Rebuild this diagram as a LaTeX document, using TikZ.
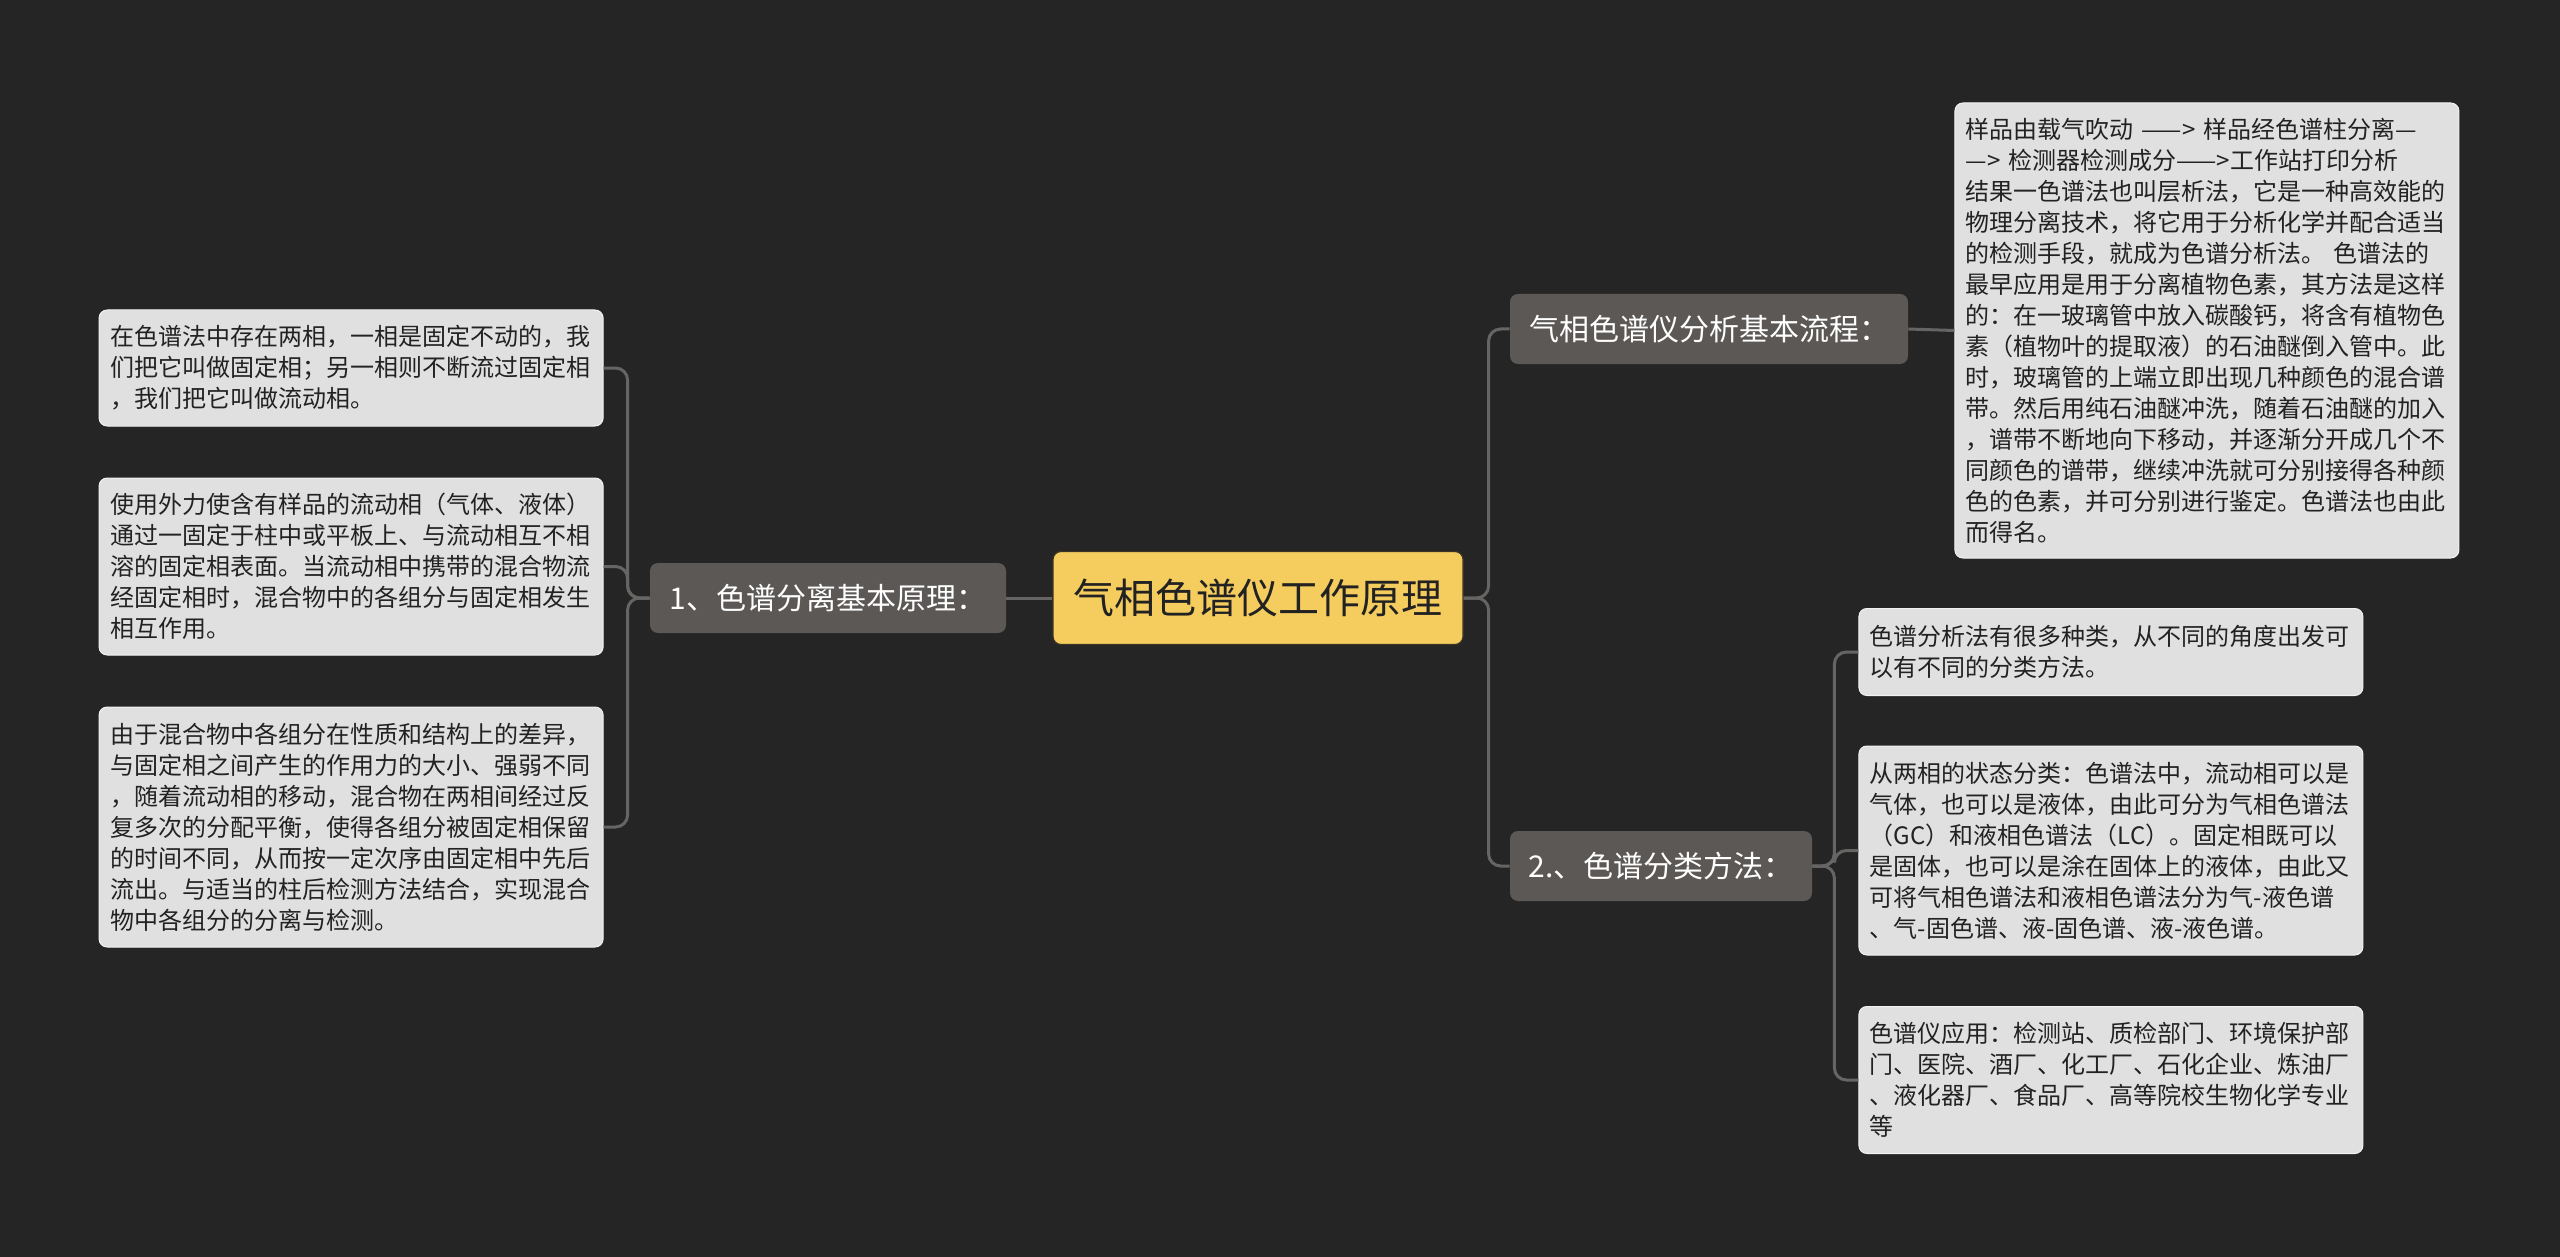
\documentclass[tikz,border=0pt]{standalone}
\usepackage{fontspec}
\setmainfont{Noto Sans CJK SC}
\usepackage{tikz}
\usetikzlibrary{
  positioning,
  calc
}
\definecolor{gcBack}{HTML}{252525}
\definecolor{gcLine}{HTML}{676564}
\definecolor{gcBranch}{HTML}{5B5856}
\definecolor{gcRoot}{HTML}{F5CD5F}
\definecolor{gcRootEdge}{HTML}{3A3424}
\definecolor{gcLeaf}{HTML}{E0E0E0}
\definecolor{gcLeafEdge}{HTML}{F2F2F2}
\definecolor{gcText}{HTML}{222222}
\tikzset{
  gcnode/.style={
    rounded corners=4pt, align=center, inner xsep=8pt, inner ysep=4pt
  },
  rootbox/.style={gcnode, fill=gcRoot, draw=gcRootEdge, line width=0.6pt,
    text=gcText, minimum width=205pt, minimum height=46.5pt,
    font=\fontsize{20.5pt}{24pt}\selectfont},
  branchbox/.style={gcnode, fill=gcBranch, text=white,
    minimum height=35pt, font=\fontsize{15pt}{18pt}\selectfont},
  leafbox/.style={gcnode, fill=gcLeaf, draw=gcLeafEdge, line width=0.5pt,
    text=gcText, align=left, text width=241pt, inner xsep=5.5pt, inner ysep=7pt,
    font=\fontsize{12pt}{15.5pt}\selectfont},
  link/.style={draw=gcLine, line width=1.5pt, rounded corners=6pt}
}

\begin{document}
\begin{tikzpicture}[x=0.5pt, y=-0.5pt, node distance=23pt]
  \fill[gcBack] (0,0) rectangle (2560,1257);

  % centre and the three branches
  \node[rootbox] (root) at (1258,598) {气相色谱仪工作原理};
  \node[branchbox, minimum width=178pt, left=of root] (prin) {1、色谱分离基本原理：};
  \node[branchbox, minimum width=199pt, right=of root, yshift=134.5pt] (flow) {气相色谱仪分析基本流程：};
  \node[branchbox, minimum width=151pt, right=of root, yshift=-134pt] (kind) {2.、色谱分类方法：};

  % left leaves
  \node[leafbox, minimum height=58pt, left=of prin, yshift=115pt] (twophase)
    {在色谱法中存在两相，一相是固定不动的，我\\
     们把它叫做固定相；另一相则不断流过固定相\\
     ，我们把它叫做流动相。};
  \node[leafbox, minimum height=88.5pt, left=of prin, yshift=15.75pt] (mobile)
    {使用外力使含有样品的流动相（气体、液体）\\
     通过一固定于柱中或平板上、与流动相互不相\\
     溶的固定相表面。当流动相中携带的混合物流\\
     经固定相时，混合物中的各组分与固定相发生\\
     相互作用。};
  \node[leafbox, minimum height=120pt, left=of prin, yshift=-114.5pt] (separate)
    {由于混合物中各组分在性质和结构上的差异，\\
     与固定相之间产生的作用力的大小、强弱不同\\
     ，随着流动相的移动，混合物在两相间经过反\\
     复多次的分配平衡，使得各组分被固定相保留\\
     的时间不同，从而按一定次序由固定相中先后\\
     流出。与适当的柱后检测方法结合，实现混合\\
     物中各组分的分离与检测。};

  % right leaves
  \node[leafbox, minimum height=227.5pt, right=of flow, yshift=-0.75pt] (process)
    {样品由载气吹动 ——> 样品经色谱柱分离—\\
     —> 检测器检测成分——>工作站打印分析\\
     结果一色谱法也叫层析法，它是一种高效能的\\
     物理分离技术，将它用于分析化学并配合适当\\
     的检测手段，就成为色谱分析法。 色谱法的\\
     最早应用是用于分离植物色素，其方法是这样\\
     的：在一玻璃管中放入碳酸钙，将含有植物色\\
     素（植物叶的提取液）的石油醚倒入管中。此\\
     时，玻璃管的上端立即出现几种颜色的混合谱\\
     带。然后用纯石油醚冲洗，随着石油醚的加入\\
     ，谱带不断地向下移动，并逐渐分开成几个不\\
     同颜色的谱带，继续冲洗就可分别接得各种颜\\
     色的色素，并可分别进行鉴定。色谱法也由此\\
     而得名。};
  \node[leafbox, minimum height=43.5pt, right=of kind, yshift=107pt] (kinds)
    {色谱分析法有很多种类，从不同的角度出发可\\
     以有不同的分类方法。};
  \node[leafbox, minimum height=104.5pt, right=of kind, yshift=7.75pt] (state)
    {从两相的状态分类：色谱法中，流动相可以是\\
     气体，也可以是液体，由此可分为气相色谱法\\
     （GC）和液相色谱法（LC）。固定相既可以\\
     是固体，也可以是涂在固体上的液体，由此又\\
     可将气相色谱法和液相色谱法分为气-液色谱\\
     、气-固色谱、液-固色谱、液-液色谱。};
  \node[leafbox, minimum height=73.5pt, right=of kind, yshift=-107pt] (usage)
    {色谱仪应用：检测站、质检部门、环境保护部\\
     门、医院、酒厂、化工厂、石化企业、炼油厂\\
     、液化器厂、食品厂、高等院校生物化学专业\\
     等};

  % connectors
  \draw[link] (root.west) -- (prin.east);
  \draw[link] (root.east) -- ++(25,0) |- (flow.west);
  \draw[link] (root.east) -- ++(25,0) |- (kind.west);
  \foreach \leaf in {twophase, mobile, separate}
    \draw[link] (prin.west) -- ++(-22,0) |- (\leaf.east);
  \draw[link] (flow.east) -- (process.west);
  \foreach \leaf in {kinds, state, usage}
    \draw[link] (kind.east) -- ++(22,0) |- (\leaf.west);
\end{tikzpicture}
\end{document}
